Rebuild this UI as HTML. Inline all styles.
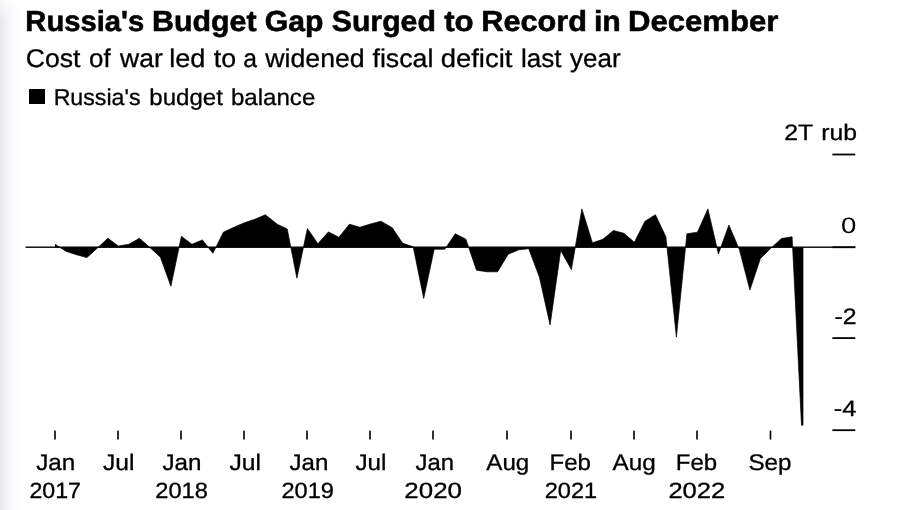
<!DOCTYPE html>
<html><head><meta charset="utf-8"><title>Russia's Budget Gap Surged to Record in December</title>
<style>
html,body{margin:0;padding:0;background:#fff;}
body{width:900px;height:510px;position:relative;overflow:hidden;font-family:"Liberation Sans",sans-serif;color:#000;}
.edge{position:absolute;left:0;top:0;width:20px;height:510px;background:linear-gradient(to bottom,rgba(255,255,255,0.75) 0px,rgba(255,255,255,0.35) 10px,rgba(255,255,255,0) 24px),linear-gradient(to right,#e7e6e9 0%,#f0eff2 25%,#f8f7f9 50%,#fdfcfd 75%,#ffffff 100%);}
text{font-family:"Liberation Sans",sans-serif;fill:#000;stroke:#000;stroke-width:0.3px;text-rendering:geometricPrecision;white-space:pre;}
.b{font-weight:bold;stroke:#000;stroke-width:0.55px;}
.sq{position:absolute;left:29.2px;top:89.1px;width:16px;height:15.4px;background:#000;}
svg{position:absolute;left:0;top:0;}
</style></head><body>
<div class="edge"></div>
<div class="sq"></div>
<svg width="900" height="510" viewBox="0 0 900 510">
<rect x="25.6" y="246.5" width="829.7" height="1.4" fill="#000"/>
<polygon points="55.0,247.2 55.0,244.3 65.9,251.2 76.4,254.7 86.9,257.6 97.4,248.0 107.9,238.3 118.4,246.0 128.9,244.3 139.4,238.3 149.9,247.5 160.4,257.2 170.9,286.2 181.4,236.3 191.9,244.3 202.4,239.9 212.9,253.3 223.4,232.2 233.9,227.3 244.4,222.8 254.9,219.2 265.4,214.8 277.3,224.3 287.2,228.9 296.9,278.2 307.4,228.5 317.9,243.7 328.4,231.9 338.9,237.3 349.4,224.2 359.9,227.2 370.4,224.0 380.9,221.2 392.2,227.7 402.7,243.3 413.2,246.7 423.7,298.4 434.2,249.2 444.8,249.2 455.3,233.8 465.9,239.2 476.5,270.2 487.1,271.8 497.6,271.8 508.2,254.2 518.9,249.8 528.7,248.7 539.4,277.1 550.1,325.0 560.7,250.5 571.4,269.6 581.9,208.9 592.4,242.8 602.9,239.3 613.4,230.5 623.9,233.3 634.4,242.3 644.9,221.3 655.4,214.8 665.9,236.8 676.4,337.1 686.9,233.8 697.4,232.2 707.9,208.9 718.4,254.0 728.9,225.0 739.4,249.7 749.9,290.0 760.4,258.6 770.9,248.2 781.5,238.5 792.1,236.8 801.5,425.2 803.0,425.2 803.0,247.2" fill="#000"/>
<polyline points="55.0,244.3 65.9,251.2 76.4,254.7 86.9,257.6 97.4,248.0 107.9,238.3 118.4,246.0 128.9,244.3 139.4,238.3 149.9,247.5 160.4,257.2 170.9,286.2 181.4,236.3 191.9,244.3 202.4,239.9 212.9,253.3 223.4,232.2 233.9,227.3 244.4,222.8 254.9,219.2 265.4,214.8 277.3,224.3 287.2,228.9 296.9,278.2 307.4,228.5 317.9,243.7 328.4,231.9 338.9,237.3 349.4,224.2 359.9,227.2 370.4,224.0 380.9,221.2 392.2,227.7 402.7,243.3 413.2,246.7 423.7,298.4 434.2,249.2 444.8,249.2 455.3,233.8 465.9,239.2 476.5,270.2 487.1,271.8 497.6,271.8 508.2,254.2 518.9,249.8 528.7,248.7 539.4,277.1 550.1,325.0 560.7,250.5 571.4,269.6 581.9,208.9 592.4,242.8 602.9,239.3 613.4,230.5 623.9,233.3 634.4,242.3 644.9,221.3 655.4,214.8 665.9,236.8 676.4,337.1 686.9,233.8 697.4,232.2 707.9,208.9 718.4,254.0 728.9,225.0 739.4,249.7 749.9,290.0 760.4,258.6 770.9,248.2 781.5,238.5 792.1,236.8 801.5,425.2 803.0,425.2 803.0,247.2" fill="none" stroke="#000" stroke-width="0.7" stroke-linejoin="round" stroke-linecap="butt"/>
<rect x="54.20" y="430.6" width="1.6" height="8.9" fill="#000"/><rect x="117.20" y="430.6" width="1.6" height="8.9" fill="#000"/><rect x="180.20" y="430.6" width="1.6" height="8.9" fill="#000"/><rect x="243.20" y="430.6" width="1.6" height="8.9" fill="#000"/><rect x="306.20" y="430.6" width="1.6" height="8.9" fill="#000"/><rect x="369.20" y="430.6" width="1.6" height="8.9" fill="#000"/><rect x="432.20" y="430.6" width="1.6" height="8.9" fill="#000"/><rect x="506.20" y="430.6" width="1.6" height="8.9" fill="#000"/><rect x="570.20" y="430.6" width="1.6" height="8.9" fill="#000"/><rect x="633.20" y="430.6" width="1.6" height="8.9" fill="#000"/><rect x="696.20" y="430.6" width="1.6" height="8.9" fill="#000"/><rect x="769.70" y="430.6" width="1.6" height="8.9" fill="#000"/>
<rect x="832.4" y="153.60" width="22.9" height="1.8" fill="#000"/><rect x="832.4" y="246.35" width="22.9" height="1.8" fill="#000"/><rect x="832.4" y="337.20" width="22.9" height="1.8" fill="#000"/><rect x="832.4" y="429.30" width="22.9" height="1.8" fill="#000"/>
<text class="b" font-size="29" transform="translate(25.37,31) scale(1.0066,1)">Russia's</text>
<text class="b" font-size="29" transform="translate(152.00,31) scale(1.0470,1)">Budget</text>
<text class="b" font-size="29" transform="translate(264.84,31) scale(1.0386,1)">Gap</text>
<text class="b" font-size="29" transform="translate(331.73,31) scale(1.0425,1)">Surged</text>
<text class="b" font-size="29" transform="translate(444.20,31) scale(1.0778,1)">to</text>
<text class="b" font-size="29" transform="translate(481.29,31) scale(1.0582,1)">Record</text>
<text class="b" font-size="29" transform="translate(593.97,31) scale(1.0426,1)">in</text>
<text class="b" font-size="29" transform="translate(627.96,31) scale(1.0730,1)">December</text>
<text font-size="25.6" transform="translate(25.66,67) scale(1.0404,1)">Cost</text>
<text font-size="25.6" transform="translate(89.02,67) scale(1.0128,1)">of</text>
<text font-size="25.6" transform="translate(120.09,67) scale(1.0343,1)">war</text>
<text font-size="25.6" transform="translate(169.24,67) scale(1.0594,1)">led</text>
<text font-size="25.6" transform="translate(213.70,67) scale(1.0473,1)">to</text>
<text font-size="25.6" transform="translate(243.25,67) scale(0.9645,1)">a</text>
<text font-size="25.6" transform="translate(265.29,67) scale(1.0426,1)">widened</text>
<text font-size="25.6" transform="translate(372.50,67) scale(1.0439,1)">fiscal</text>
<text font-size="25.6" transform="translate(440.67,67) scale(1.0721,1)">deficit</text>
<text font-size="25.6" transform="translate(520.98,67) scale(1.0179,1)">last</text>
<text font-size="25.6" transform="translate(570.03,67) scale(1.0154,1)">year</text>
<text font-size="23" transform="translate(53.63,105) scale(1.0078,1)">Russia's</text>
<text font-size="23" transform="translate(149.25,105) scale(1.0468,1)">budget</text>
<text font-size="23" transform="translate(230.95,105) scale(1.0468,1)">balance</text>
<text font-size="22.6" transform="translate(36.25,470) scale(1.0714,1)">Jan</text>
<text font-size="22.6" transform="translate(103.00,470) scale(1.0910,1)">Jul</text>
<text font-size="22.6" transform="translate(162.50,470) scale(1.0714,1)">Jan</text>
<text font-size="22.6" transform="translate(229.50,470) scale(1.0910,1)">Jul</text>
<text font-size="22.6" transform="translate(289.50,470) scale(1.0643,1)">Jan</text>
<text font-size="22.6" transform="translate(355.50,470) scale(1.0728,1)">Jul</text>
<text font-size="22.6" transform="translate(415.50,470) scale(1.0571,1)">Jan</text>
<text font-size="22.6" transform="translate(486.28,470) scale(1.0697,1)">Aug</text>
<text font-size="22.6" transform="translate(549.54,470) scale(1.0648,1)">Feb</text>
<text font-size="22.6" transform="translate(612.53,470) scale(1.0761,1)">Aug</text>
<text font-size="22.6" transform="translate(675.79,470) scale(1.0648,1)">Feb</text>
<text font-size="22.6" transform="translate(748.45,470) scale(1.0701,1)">Sep</text>
<text font-size="22" transform="translate(29.38,498) scale(1.0540,1)">2017</text>
<text font-size="22" transform="translate(155.21,498) scale(1.0762,1)">2018</text>
<text font-size="22" transform="translate(281.47,498) scale(1.0727,1)">2019</text>
<text font-size="22" transform="translate(404.36,498) scale(1.1773,1)">2020</text>
<text font-size="22" transform="translate(544.72,498) scale(1.0725,1)">2021</text>
<text font-size="22" transform="translate(668.38,498) scale(1.1635,1)">2022</text>
<text font-size="22.3" transform="translate(784.21,140) scale(1.1111,1)">2T</text>
<text font-size="22.3" transform="translate(821.29,140) scale(1.1080,1)">rub</text>
<text style="stroke-width:0" font-size="22.3" transform="translate(841.05,233) scale(1.2374,1)">0</text>
<text font-size="22.3" transform="translate(834.57,324) scale(1.1123,1)">-2</text>
<text font-size="22.3" transform="translate(833.75,416) scale(1.1367,1)">-4</text>
</svg>
</body></html>
